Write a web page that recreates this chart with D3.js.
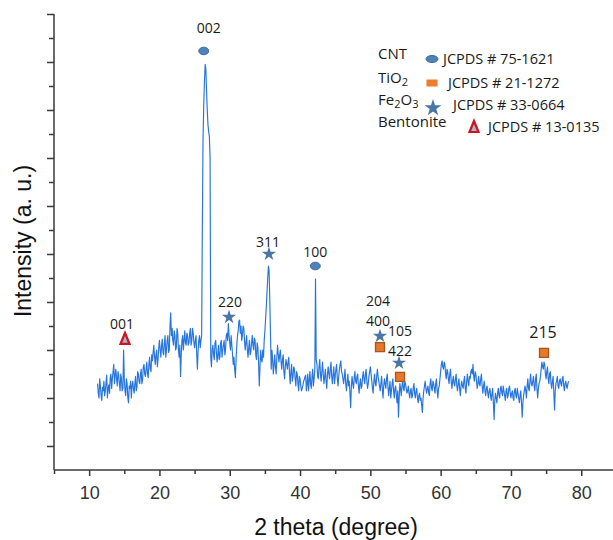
<!DOCTYPE html>
<html>
<head>
<meta charset="utf-8">
<script src="https://cdn.jsdelivr.net/npm/d3@7"></script>
<style>
body { margin: 0; background: #fff; }
</style>
</head>
<body>
<svg id="xrd" width="613" height="540"></svg>
<script>
// XRD scan, 2theta from scanStart with a fixed step (one row per degree)
var scanStart = 11.2;
var scanStep = 0.1;
var intensity = [
	360, 320, 300, 380, 350, 310, 290, 345, 330,
	370, 310, 330, 365, 395, 300, 340, 355, 320, 385,
	400, 340, 380, 410, 440, 360, 395, 420, 380, 350,
	410, 395, 360, 330, 400, 380, 330, 340, 500, 380,
	330, 310, 380, 360, 300, 280, 350, 340, 370, 300,
	350, 370, 340, 320, 360, 390, 330, 345, 410, 400,
	370, 360, 400, 420, 360, 375, 430, 440, 400, 390,
	420, 450, 400, 385, 440, 470, 420, 410, 480, 455,
	490, 520, 470, 440, 480, 500, 430, 460, 510, 540,
	500, 470, 520, 545, 490, 480, 530, 560, 470, 500,
	540, 560, 490, 500, 600, 655, 560, 590, 540, 520,
	580, 560, 500, 510, 590, 570, 500, 470, 520, 390,
	480, 540, 560, 500, 540, 580, 530, 520, 570, 560,
	520, 530, 570, 590, 520, 540, 590, 570, 530, 510,
	540, 560, 480, 420, 500, 540, 560, 510, 540, 560,
	1000, 1380, 1520, 1620, 1690, 1670, 1580, 1500, 1440, 1410,
	1390, 1300, 470, 430, 500, 520, 480, 460, 530, 540,
	490, 450, 480, 520, 460, 470, 530, 540, 470, 500,
	520, 540, 480, 500, 560, 570, 540, 610, 560, 530,
	500, 560, 520, 480, 440, 470, 420, 385, 460, 520,
	560, 580, 620, 625, 570, 600, 540, 560, 600, 590,
	540, 500, 530, 560, 500, 470, 510, 540, 480, 490,
	530, 560, 520, 500, 550, 540, 480, 460, 530, 510,
	450, 350, 430, 500, 460, 450, 500, 470, 540, 580,
	630, 680, 740, 800, 850, 830, 700, 560, 420, 500,
	460, 400, 440, 480, 430, 400, 470, 520, 480, 450,
	480, 500, 450, 420, 460, 480, 410, 380, 430, 460,
	440, 420, 450, 470, 400, 360, 410, 440, 370, 390,
	430, 420, 380, 350, 410, 400, 360, 330, 390, 380,
	350, 330, 340, 352, 368, 377, 389, 395, 330, 360,
	400, 330, 370, 410, 360, 340, 390, 420, 350, 380,
	420, 796, 460, 440, 390, 380, 430, 460, 400, 370,
	410, 450, 400, 360, 390, 420, 370, 340, 400, 430,
	400, 380, 420, 450, 390, 360, 400, 430, 360, 390,
	420, 440, 380, 350, 390, 420, 440, 455, 410, 400,
	380, 360, 390, 420, 360, 330, 370, 400, 350, 370,
	320, 260, 350, 390, 360, 340, 380, 410, 370, 360,
	390, 400, 350, 320, 360, 380, 340, 350, 390, 410,
	380, 360, 400, 420, 370, 340, 360, 390, 410, 430,
	400, 370, 340, 320, 370, 400, 360, 350, 390, 420,
	390, 370, 350, 330, 360, 390, 340, 300, 350, 380,
	360, 340, 380, 400, 350, 310, 340, 370, 300, 330,
	360, 380, 330, 300, 340, 350, 310, 280, 330, 220,
	300, 360, 340, 310, 350, 380, 340, 330, 370, 360,
	340, 320, 330, 350, 320, 300, 330, 340, 300, 310,
	340, 360, 320, 300, 330, 340, 300, 280, 310, 320,
	290, 300, 270, 240, 300, 330, 350, 370, 340, 320,
	340, 350, 320, 310, 360, 380, 340, 330, 370, 360,
	340, 320, 360, 380, 330, 300, 340, 350, 380, 410,
	440, 455, 430, 420, 450, 440, 400, 380, 420, 410,
	380, 360, 400, 420, 370, 340, 370, 390, 360, 350,
	380, 400, 350, 330, 360, 380, 340, 310, 350, 370,
	350, 340, 370, 390, 340, 320, 370, 400, 370, 350,
	390, 380, 410, 420, 400, 440, 390, 370, 410, 400,
	370, 340, 360, 390, 360, 350, 380, 400, 350, 320,
	350, 370, 330, 310, 340, 350, 320, 300, 330, 340,
	310, 290, 320, 340, 280, 210, 290, 320, 300, 280,
	320, 340, 310, 300, 340, 350, 320, 310, 350, 330,
	310, 290, 330, 340, 300, 310, 340, 350, 320, 300,
	320, 330, 300, 290, 330, 340, 310, 300, 340, 320,
	300, 280, 310, 330, 280, 220, 280, 310, 330, 350,
	330, 300, 350, 380, 340, 330, 370, 400, 360, 350,
	370, 390, 350, 330, 380, 400, 340, 300, 340, 360,
	370, 390, 420, 450, 430, 420, 450, 440, 400, 380,
	410, 430, 380, 360, 400, 410, 360, 340, 370, 390,
	320, 250, 330, 360, 370, 390, 350, 340, 370, 380,
	360, 350, 380, 390, 350, 330, 360, 370, 350, 340,
	360, 370
];

var xTickValues = [10, 20, 30, 40, 50, 60, 70, 80];

// legend
var phaseKeys = ['cnt', 'tio2', 'fe2o3', 'bent'];
var phaseNames = [['CNT'], ['TiO', '2'], ['Fe', '2', 'O', '3'], ['Bentonite']];
var jcpdsCards = ['JCPDS # 75-1621', 'JCPDS # 21-1272', 'JCPDS # 33-0664', 'JCPDS # 13-0135'];

// indexed reflections: hkl, phase, 2theta, marker height
var peakHkl = ['002', '001', '220', '311', '100', '204', '400', '105', '422', '215'];
var peakPhase = ['cnt', 'bent', 'fe2o3', 'fe2o3', 'cnt', 'fe2o3', 'tio2', 'fe2o3', 'tio2', 'tio2'];
var peakAngle = [26.3, 15.1, 29.9, 35.58, 42.17, 51.37, 51.37, 54.08, 54.22, 74.7];
var peakLevel = [1746, 546, 637, 900, 850, 558, 512, 446, 388, 488];

// label offsets from the marker, in pixels
var labelNudge = {
	'002': [5, -23], '001': [-3, -15], '220': [1, -15], '311': [-1, -12],
	'100': [0, -14], '204': [-2, -35], '400': [-2, -26], '105': [1, -32],
	'422': [0, -26], '215': [-1, -20]
};

var svg = d3.select('#xrd');
var axisColor = '#3a3a3a';

var x = d3.scaleLinear().domain([5, 85]).range([54, 616.4]);
var y = d3.scaleLinear().domain([0, 1900]).range([470, 14]);

var scan = intensity.map(function(v, i) {
	return {t: +(scanStart + i * scanStep).toFixed(2), v: v};
});

// pattern
var line = d3.line()
	.x(d => x(d.t))
	.y(d => y(d.v));

svg.append('path')
	.datum(scan)
	.attr('d', line)
	.attr('fill', 'none')
	.attr('stroke', '#2574e0')
	.attr('stroke-width', 1.15)
	.attr('stroke-linejoin', 'round');

// x axis: major ticks every 10, minor every 5
var xAxis = svg.append('g')
	.attr('transform', 'translate(0,470)')
	.call(d3.axisBottom(x)
		.tickValues(xTickValues)
		.tickSize(6)
		.tickFormat(d3.format('d')));

svg.append('g')
	.attr('transform', 'translate(0,470)')
	.call(d3.axisBottom(x)
		.tickValues(d3.range(5, 85, 10))
		.tickSize(4)
		.tickFormat(''))
	.select('.domain').remove();

xAxis.select('.domain')
	.attr('d', 'M54,0H613');

// y axis, no labels: long ticks on odd hundreds, short on even
var yAxisMajor = svg.append('g')
	.attr('transform', 'translate(54,0)')
	.call(d3.axisLeft(y)
		.tickValues(d3.range(100, 2000, 200))
		.tickSize(7)
		.tickFormat(''));

svg.append('g')
	.attr('transform', 'translate(54,0)')
	.call(d3.axisLeft(y)
		.tickValues(d3.range(200, 1900, 200))
		.tickSize(5)
		.tickFormat(''))
	.select('.domain').remove();

yAxisMajor.select('.domain')
	.attr('d', 'M0,' + y(1900) + 'V470');

svg.selectAll('.domain, .tick line')
	.attr('stroke', axisColor)
	.attr('stroke-width', 1.5);

xAxis.selectAll('.tick text')
	.attr('font-family', 'Liberation Sans, Arial, sans-serif')
	.attr('font-size', 18)
	.attr('fill', '#333')
	.attr('dy', '1.1em');

// axis titles
svg.append('text')
	.attr('x', 336)
	.attr('y', 535)
	.attr('text-anchor', 'middle')
	.attr('font-family', 'Liberation Sans, Arial, sans-serif')
	.attr('font-size', 23)
	.attr('fill', '#111')
	.text('2 theta (degree)');

svg.append('text')
	.attr('transform', 'translate(31,241) rotate(-90)')
	.attr('text-anchor', 'middle')
	.attr('font-family', 'Liberation Sans, Arial, sans-serif')
	.attr('font-size', 23)
	.attr('fill', '#111')
	.text('Intensity (a. u.)');

// marker shapes per phase
var drawMarker = function(g, phase) {
	if (phase == 'cnt') {
		g.append('ellipse')
			.attr('rx', 5).attr('ry', 3.8)
			.attr('fill', '#4f81bd')
			.attr('stroke', '#3d6b9c')
			.attr('stroke-width', 1);
	} else if (phase == 'tio2') {
		g.append('rect')
			.attr('x', -4.5).attr('y', -4.5)
			.attr('width', 9).attr('height', 9)
			.attr('fill', '#e8782a')
			.attr('stroke', '#a9561c')
			.attr('stroke-width', 1.3);
	} else if (phase == 'fe2o3') {
		g.append('path')
			.attr('d', d3.symbol(d3.symbolStar, 62)())
			.attr('fill', '#4a76a5');
	} else {
		g.append('path')
			.attr('d', 'M0,-6L4.5,5H-4.5Z')
			.attr('fill', '#9fb6d6')
			.attr('stroke', '#d0121b')
			.attr('stroke-width', 2.2)
			.attr('stroke-linejoin', 'miter');
	}
};

var peaks = peakHkl.map((h, i) => ({hkl: h, phase: peakPhase[i], t: peakAngle[i], v: peakLevel[i]}));

peaks.forEach(function(p) {
	var g = svg.append('g')
		.attr('transform', 'translate(' + x(p.t) + ',' + y(p.v) + ')');
	drawMarker(g, p.phase);
	var nudge = labelNudge[p.hkl];
	g.append('text')
		.attr('x', nudge[0])
		.attr('y', nudge[1])
		.attr('dy', '0.35em')
		.attr('text-anchor', 'middle')
		.attr('font-family', 'Open Sans, sans-serif')
		.attr('font-size', p.hkl == '215' ? 16 : 14)
		.attr('fill', '#1a1a1a')
		.text(p.hkl);
});

// legend
var legendRowY = [59, 83, 105, 127];
var legendMarkX = [432, 432, 433, 474];
var legendCardX = [443, 448, 453, 488];

phaseKeys.forEach(function(k, i) {
	var name = svg.append('text')
		.attr('x', 378)
		.attr('y', legendRowY[i])
		.attr('dy', '0.35em')
		.attr('font-family', 'Open Sans, sans-serif')
		.attr('font-size', 15)
		.attr('fill', '#1a1a1a');
	phaseNames[i].forEach(function(part, j) {
		var sub = j % 2 == 1;
		name.append('tspan')
			.attr('font-size', sub ? 11 : 15)
			.attr('dy', sub ? 3 : (j > 0 ? -3 : 0))
			.text(part);
	});

	var g = svg.append('g')
		.attr('transform', 'translate(' + legendMarkX[i] + ',' + (legendRowY[i] + (k == 'fe2o3' ? 3 : 0)) + ')');
	if (k == 'tio2') {
		g.append('rect')
			.attr('x', -5.5).attr('y', -3.5)
			.attr('width', 11).attr('height', 7)
			.attr('fill', '#ee7d2e');
	} else {
		drawMarker(g, k);
	}
	if (k == 'cnt') g.select('ellipse').attr('rx', 6).attr('ry', 3.5);
	if (k == 'fe2o3') g.select('path').attr('d', d3.symbol(d3.symbolStar, 90)());

	svg.append('text')
		.attr('x', legendCardX[i])
		.attr('y', legendRowY[i])
		.attr('dy', '0.35em')
		.attr('font-family', 'Open Sans, sans-serif')
		.attr('font-size', 14.5)
		.attr('fill', '#1a1a1a')
		.text(jcpdsCards[i]);
});
</script>
</body>
</html>
